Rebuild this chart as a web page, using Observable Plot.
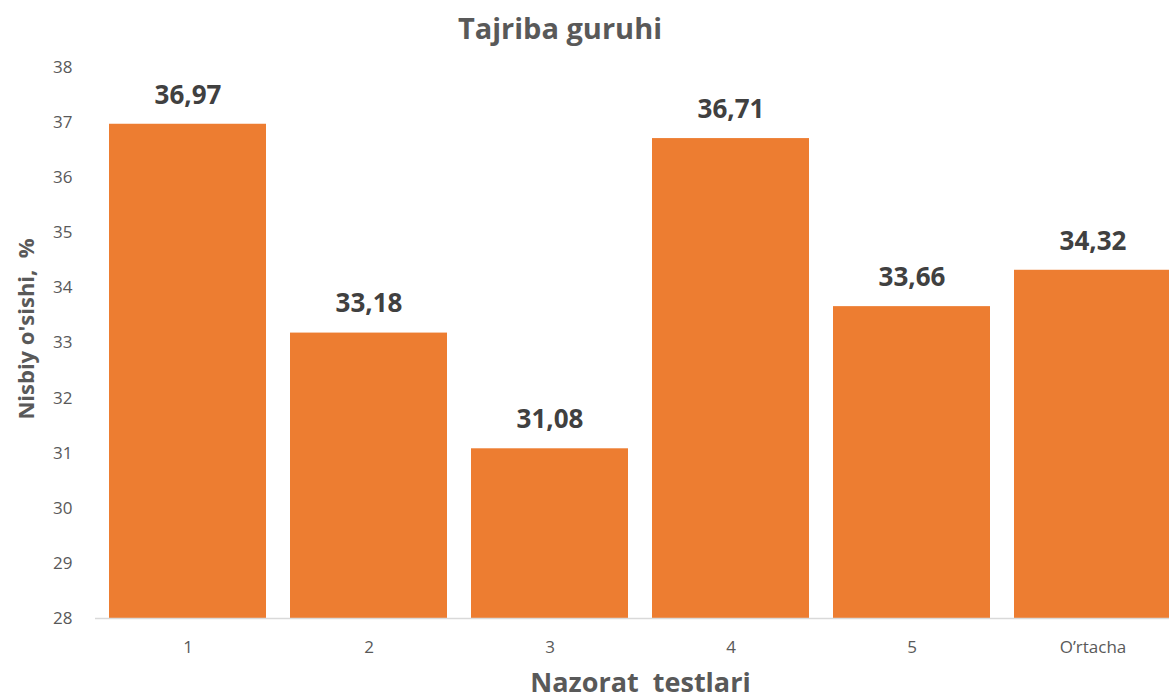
<!DOCTYPE html>
<html>
<head>
<meta charset="utf-8">
<script src="https://cdn.jsdelivr.net/npm/d3@7"></script>
<script src="https://cdn.jsdelivr.net/npm/@observablehq/plot@0.6"></script>
<style>
  html, body { margin: 0; padding: 0; background: #fff; overflow: hidden; }
  #wrap { position: relative; width: 1169px; height: 700px; overflow: hidden; }
  #chart svg { max-width: none !important; display: block; }
  #title { position: absolute; top: 13px; left: 0; width: 1120px; text-align: center; line-height: 29px;
           font-family: "Open Sans", sans-serif; font-weight: bold; font-size: 29px; color: #595959; }
</style>
</head>
<body>
<div id="wrap">
  <div id="chart"></div>
  <div id="title">Tajriba guruhi</div>
</div>
<script>
const categories = ["1", "2", "3", "4", "5", "O’rtacha"];
const values = [36.97, 33.18, 31.08, 36.71, 33.66, 34.32];
const yTicks = [28, 29, 30, 31, 32, 33, 34, 35, 36, 37, 38];
const yTitle = "Nisbiy o'sishi,\u00a0 %";
const xTitle = "Nazorat\u00a0 testlari";

const data = categories.map((c, i) => ({cat: c, v: values[i]}));
const fmt = v => v.toFixed(2).replace(".", ",");

const chart = Plot.plot({
  width: 1185,
  height: 700,
  marginTop: 67,
  marginBottom: 82,
  marginLeft: 95,
  marginRight: 0,
  style: {fontFamily: "'Open Sans', sans-serif", fontSize: "17px", color: "#595959", background: "#fff", maxWidth: "none"},
  x: {domain: categories, paddingInner: 0.13, paddingOuter: 0.065, label: xTitle},
  y: {domain: [28, 38], label: yTitle},
  marks: [
    Plot.barY(data, {x: "cat", y1: 28, y2: "v", fill: "#ED7D31"}),
    Plot.ruleY([28], {stroke: "#d9d9d9", strokeWidth: 1.5}),
    Plot.text(data, {x: "cat", y: "v", text: d => fmt(d.v), dy: -29, fontSize: 26, fontWeight: "bold", fill: "#404040"}),
    Plot.axisY({ticks: yTicks, tickSize: 0, tickPadding: 23, tickFormat: d => String(d), fill: "#595959",
                label: yTitle, labelAnchor: "center", labelOffset: 77}),
    Plot.axisX({tickSize: 0, tickPadding: 22, fill: "#595959",
                label: xTitle, labelAnchor: "center", labelOffset: 73})
  ]
});
document.getElementById("chart").appendChild(chart);

const svg = d3.select(chart);
svg.selectAll('[aria-label="y-axis label"] text').text(yTitle).attr("dx", 14);
svg.selectAll('[aria-label="x-axis label"] text').text(xTitle);
svg.selectAll('[aria-label="y-axis label"], [aria-label="y-axis label"] text')
  .attr("font-size", 22).attr("font-weight", "bold").attr("fill", "#595959");
svg.selectAll('[aria-label="x-axis label"], [aria-label="x-axis label"] text')
  .attr("font-size", 27).attr("font-weight", "bold").attr("fill", "#595959");
</script>
</body>
</html>
